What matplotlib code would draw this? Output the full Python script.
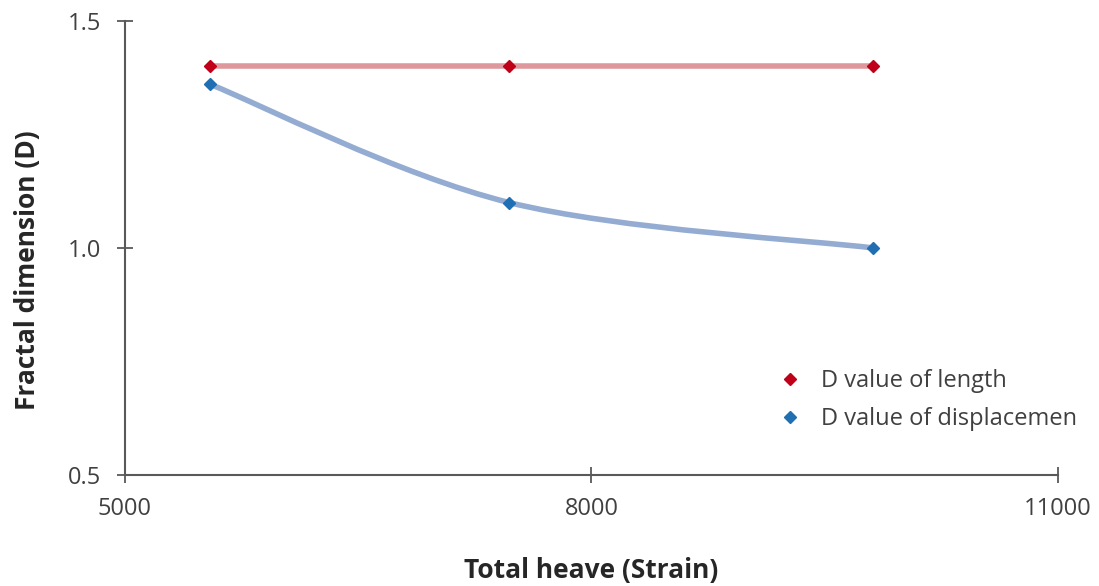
import numpy as np
import matplotlib.pyplot as plt
from matplotlib.path import Path
from matplotlib.patches import PathPatch

plt.rcParams['font.family'] = ['Open Sans', 'DejaVu Sans']

heave = [5550, 7470, 9810]
d_length = [1.40, 1.40, 1.40]
d_displ = [1.36, 1.10, 1.00]

xticks = [5000, 8000, 11000]
yticks = [0.5, 1.0, 1.5]


def smooth_path(x, y):
    # Excel-like smoothed line: cubic bezier through the points
    pts = np.column_stack([x, y]).astype(float)
    n = len(pts)
    verts = [pts[0]]
    codes = [Path.MOVETO]
    for i in range(n - 1):
        p0 = pts[i - 1] if i > 0 else pts[i]
        p1 = pts[i]
        p2 = pts[i + 1]
        p3 = pts[i + 2] if i + 2 < n else pts[i + 1]
        c1 = p1 + (p2 - p0) / 6.0
        c2 = p2 - (p3 - p1) / 6.0
        verts += [c1, c2, p2]
        codes += [Path.CURVE4] * 3
    return Path(verts, codes)


fig = plt.figure(figsize=(10.99, 5.86), dpi=100)
ax = fig.add_axes([0.1137, 0.1894, 0.849, 0.775])

ax.plot(heave, d_length, color='#d9868c', lw=4, alpha=0.85, zorder=2)
ax.add_patch(PathPatch(smooth_path(heave, d_displ), facecolor='none',
                       edgecolor='#94acd2', lw=4, zorder=2))

ax.plot(heave, d_length, ls='none', marker='D', ms=6.5, color='#c00018',
        label='D value of length', zorder=3)
ax.plot(heave, d_displ, ls='none', marker='D', ms=6.5, color='#1f6fb2',
        label='D value of displacemen', zorder=3)

ax.set_xlim(5000, 11000)
ax.set_ylim(0.5, 1.5)
ax.set_xticks(xticks)
ax.set_yticks(yticks)
ax.set_yticklabels(['0.5', '1.0', '1.5'])

for s in ['top', 'right']:
    ax.spines[s].set_visible(False)
for s in ['left', 'bottom']:
    ax.spines[s].set_color('#595959')
    ax.spines[s].set_linewidth(1.5)

ax.tick_params(direction='inout', length=12, width=1.3, color='#595959',
               labelsize=17, labelcolor='#404040')
ax.tick_params(axis='x', pad=10)
ax.tick_params(axis='y', pad=11)

ax.set_xlabel('Total heave (Strain)', fontsize=19, fontweight='bold',
              color='#262626', labelpad=26)
ax.set_ylabel('Fractal dimension (D)', fontsize=19, fontweight='bold',
              color='#262626')
ax.yaxis.set_label_coords(-0.09, 0.45)

ax.legend(loc='upper left', bbox_to_anchor=(766 / 1099, 1 - 357 / 586),
          bbox_transform=fig.transFigure, frameon=False, borderpad=0,
          fontsize=17, handletextpad=0.85, labelspacing=0.6,
          labelcolor='#404040', handlelength=1.0)

plt.savefig('out.png', dpi=100)
